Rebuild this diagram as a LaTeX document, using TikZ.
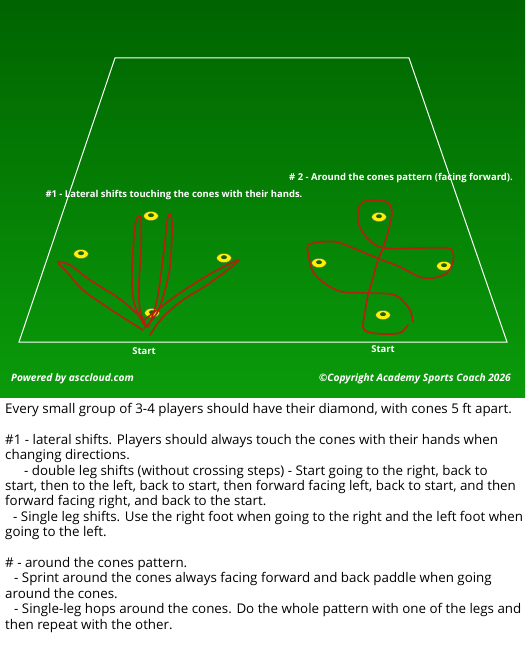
\documentclass[tikz,border=0pt]{standalone}
\usepackage{fontspec}
\setmainfont{Open Sans}
\usetikzlibrary{shapes.geometric}
\definecolor{fieldtop}{RGB}{0,100,0}
\definecolor{fieldmid}{RGB}{2,118,2}
\definecolor{fieldbot}{RGB}{10,155,10}
\definecolor{runred}{RGB}{175,35,15}
\definecolor{conedot}{RGB}{25,95,20}

\begin{document}
\begin{tikzpicture}[x=1pt, y=-1pt,
  cone/.style={ellipse, fill=yellow, draw=black!60, line width=.3pt, minimum width=14.5pt, minimum height=9pt, inner sep=0pt,
    path picture={\fill[conedot] ([yshift=.8pt]path picture bounding box.center) ellipse (3pt and 2pt);}},
  fieldtext/.style={text=white, inner sep=0pt, font=\bfseries\fontsize{9.45}{11}\selectfont},
  footer/.style={text=white, inner sep=0pt, font=\bfseries\itshape\fontsize{10.2}{12}\selectfont},
  runpath/.style={runred, line width=1.7pt, line join=round, line cap=round}]

\useasboundingbox (0,0) rectangle (525,650);
\fill[white] (0,0) rectangle (525,650);
\shade[top color=fieldtop, middle color=fieldmid, bottom color=fieldbot] (0,0) rectangle (525,397);

% pitch
\draw[white, line width=1pt] (115,58) -- (409,58) -- (507,342) -- (19,342) -- cycle;

% cones, diamond 1
\node[cone] (a1) at (151,216) {};
\node[cone] (a2) at (81,254) {};
\node[cone] (a3) at (224,258) {};
\node[cone] (a4) at (152,313) {};
% cones, diamond 2
\node[cone] (b1) at (379,217) {};
\node[cone] (b2) at (319,263) {};
\node[cone] (b3) at (444,266) {};
\node[cone] (b4) at (383,315) {};

\begin{scope}[runpath]
\draw plot[smooth, tension=.6] coordinates {(143,330) (127,320) (107,307) (83,290) (67,272) (58,262) (70,265) (90,280) (117,297) (133,310) (145,322)};
\draw plot[smooth, tension=.6] coordinates {(145,326) (138,313) (133,297) (132,267) (135,227) (138,217) (141,220) (141,250) (139,283) (140,310) (146,325)};
\draw plot[smooth, tension=.6] coordinates {(148,327) (152,317) (157,300) (162,267) (167,223) (169,214) (172,223) (170,267) (163,297) (157,313) (145,328)};
\draw plot[smooth, tension=.6] coordinates {(142,322) (157,310) (177,295) (200,280) (223,267) (239,260) (230,268) (207,285) (183,300) (163,317) (150,335)};
\draw plot[smooth, tension=.5] coordinates {(408,325) (400,333) (383,334) (368,332) (363,327) (365,312) (368,295) (372,282) (377,263) (383,248) (388,232) (392,212) (387,202) (370,200) (360,205) (358,222) (367,238) (383,248) (417,248) (447,248) (453,252) (453,262) (447,273) (433,278) (420,277) (400,267) (377,258) (353,248) (337,242) (320,242) (308,245) (308,253) (313,272) (327,285) (343,292) (368,293) (390,294) (400,298) (410,310) (413,322)};
\end{scope}

\node[fieldtext] (t2) at (401,178) {\# 2 - Around the cones pattern (facing forward).};
\node[fieldtext] (t1) at (174,195) {\#1 - Lateral shifts touching the cones with their hands.};
\node[fieldtext] (s1) at (144,351) {Start};
\node[fieldtext] (s2) at (383,349) {Start};

\node[footer, anchor=west] (pw) at (11,379) {Powered by asccloud.com};
\node[footer, anchor=east] (cp) at (511,379) {©Copyright Academy Sports Coach 2026};

\node[anchor=north west, inner sep=0pt, align=left, font=\fontsize{13.35}{15.4}\selectfont] (notes) at (5,403) {%
Every small group of 3-4 players should have their diamond, with cones 5 ft apart.\\[15.4pt]
\#1 - lateral shifts. Players should always touch the cones with their hands when\\
changing directions.\\
\hspace*{19pt}- double leg shifts (without crossing steps) - Start going to the right, back to\\
start, then to the left, back to start, then forward facing left, back to start, and then\\
forward facing right, and back to the start.\\
\hspace*{8pt}- Single leg shifts. Use the right foot when going to the right and the left foot when\\
going to the left.\\[15.4pt]
\# - around the cones pattern.\\
\hspace*{9pt}- Sprint around the cones always facing forward and back paddle when going\\
around the cones.\\
\hspace*{9pt}- Single-leg hops around the cones. Do the whole pattern with one of the legs and\\
then repeat with the other.};
\end{tikzpicture}
\end{document}
